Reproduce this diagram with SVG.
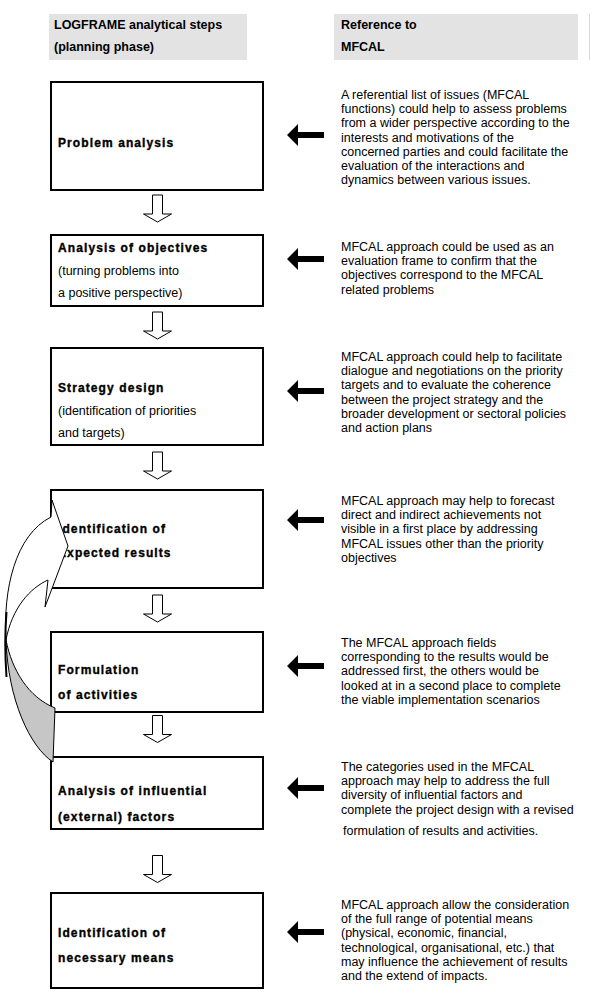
<svg xmlns="http://www.w3.org/2000/svg" width="603" height="1000" viewBox="0 0 603 1000">
<style>
text{font-family:"Liberation Sans",Arial,sans-serif;fill:#000}
.hd{font-size:12.5px;font-weight:bold}
.bt{font-size:12px;font-weight:bold;letter-spacing:1.1px;stroke:#000;stroke-width:0.35px}
.rt{font-size:12.5px}
.box{fill:#fff;stroke:#000;stroke-width:2}
.hol{fill:#fff;stroke:#000;stroke-width:1}
.blk{fill:#000}
.hbg{fill:#e3e3e3}
</style>
<defs>
<path id="hollow" d="M-5,0 L5,0 L5,19 L14,19 L0,27 L-14,19 L-5,19 Z"/>
<path id="black" d="M0,0 L11,-11 L11,-3 L37,-3 L37,3 L11,3 L11,11 Z"/>
</defs>
<rect width="603" height="1000" fill="#fff"/>

<g id="header-left">
<rect class="hbg" x="49" y="14" width="198" height="46"/>
<text class="hd" x="54" y="29">LOGFRAME analytical steps</text>
<text class="hd" x="54" y="51">(planning phase)</text>
</g>
<g id="header-right">
<rect class="hbg" x="334" y="14" width="244" height="46"/>
<line x1="589.5" y1="14" x2="589.5" y2="60" stroke="#d8d8d8" stroke-width="1"/>
<text class="hd" x="341" y="29">Reference to</text>
<text class="hd" x="341" y="51">MFCAL</text>
</g>

<g id="step1">
<rect class="box" x="51" y="82" width="212" height="108"/>
<text class="bt" x="58" y="147">Problem analysis</text>
</g>
<g id="step2">
<rect class="box" x="51" y="235" width="212" height="71"/>
<text class="bt" x="58" y="252">Analysis of objectives</text>
<text class="rt" x="58" y="275">(turning problems into</text>
<text class="rt" x="58" y="297">a positive perspective)</text>
</g>
<g id="step3">
<rect class="box" x="51" y="348" width="212" height="97"/>
<text class="bt" x="58" y="392">Strategy design</text>
<text class="rt" x="58" y="415">(identification of priorities</text>
<text class="rt" x="58" y="437">and targets)</text>
</g>
<g id="step4">
<rect class="box" x="51" y="490" width="212" height="98"/>
<text class="bt" x="58" y="533">Identification of</text>
<text class="bt" x="58" y="557">Expected results</text>
</g>
<g id="step5">
<rect class="box" x="51" y="632" width="212" height="80"/>
<text class="bt" x="58" y="674">Formulation</text>
<text class="bt" x="58" y="699">of activities</text>
</g>
<g id="step6">
<rect class="box" x="51" y="757" width="212" height="72"/>
<text class="bt" x="58" y="795">Analysis of influential</text>
<text class="bt" x="58" y="821">(external) factors</text>
</g>
<g id="step7">
<rect class="box" x="51" y="893" width="212" height="95"/>
<text class="bt" x="58" y="937">Identification of</text>
<text class="bt" x="58" y="962">necessary means</text>
</g>

<g id="ref1">
<text class="rt" x="341" y="99">A referential list of issues (MFCAL</text>
<text class="rt" x="341" y="113.2">functions) could help to assess problems</text>
<text class="rt" x="341" y="127.4">from a wider perspective according to the</text>
<text class="rt" x="341" y="141.6">interests and motivations of the</text>
<text class="rt" x="341" y="155.8">concerned parties and could facilitate the</text>
<text class="rt" x="341" y="170">evaluation of the interactions and</text>
<text class="rt" x="341" y="184.2">dynamics between various issues.</text>
</g>
<g id="ref2">
<text class="rt" x="341" y="251">MFCAL approach could be used as an</text>
<text class="rt" x="341" y="265.2">evaluation frame to confirm that the</text>
<text class="rt" x="341" y="279.4">objectives correspond to the MFCAL</text>
<text class="rt" x="341" y="293.6">related problems</text>
</g>
<g id="ref3">
<text class="rt" x="341" y="361">MFCAL approach could help to facilitate</text>
<text class="rt" x="341" y="375.2">dialogue and negotiations on the priority</text>
<text class="rt" x="341" y="389.4">targets and to evaluate the coherence</text>
<text class="rt" x="341" y="403.6">between the project strategy and the</text>
<text class="rt" x="341" y="417.8">broader development or sectoral policies</text>
<text class="rt" x="341" y="432">and action plans</text>
</g>
<g id="ref4">
<text class="rt" x="341" y="505">MFCAL approach may help to forecast</text>
<text class="rt" x="341" y="519.2">direct and indirect achievements not</text>
<text class="rt" x="341" y="533.4">visible in a first place by addressing</text>
<text class="rt" x="341" y="547.6">MFCAL issues other than the priority</text>
<text class="rt" x="341" y="561.8">objectives</text>
</g>
<g id="ref5">
<text class="rt" x="341" y="647">The MFCAL approach fields</text>
<text class="rt" x="341" y="661.2">corresponding to the results would be</text>
<text class="rt" x="341" y="675.4">addressed first, the others would be</text>
<text class="rt" x="341" y="689.6">looked at in a second place to complete</text>
<text class="rt" x="341" y="703.8">the viable implementation scenarios</text>
</g>
<g id="ref6">
<text class="rt" x="341" y="771">The categories used in the MFCAL</text>
<text class="rt" x="341" y="785.2">approach may help to address the full</text>
<text class="rt" x="341" y="799.4">diversity of influential factors and</text>
<text class="rt" x="341" y="813.6">complete the project design with a revised</text>
<text class="rt" x="343" y="834.5">formulation of results and activities.</text>
</g>
<g id="ref7">
<text class="rt" x="341" y="909">MFCAL approach allow the consideration</text>
<text class="rt" x="341" y="923.2">of the full range of potential means</text>
<text class="rt" x="341" y="937.4">(physical, economic, financial,</text>
<text class="rt" x="341" y="951.6">technological, organisational, etc.) that</text>
<text class="rt" x="341" y="965.8">may influence the achievement of results</text>
<text class="rt" x="341" y="980">and the extend of impacts.</text>
</g>

<g id="connectors">
<use href="#hollow" class="hol" x="157.5" y="195"/>
<use href="#hollow" class="hol" x="157.5" y="312"/>
<use href="#hollow" class="hol" x="157.5" y="452"/>
<use href="#hollow" class="hol" x="157.5" y="595"/>
<use href="#hollow" class="hol" x="157.5" y="715.5"/>
<use href="#hollow" class="hol" x="157.5" y="855.5"/>
<use href="#black" class="blk" x="287" y="135"/>
<use href="#black" class="blk" x="287" y="259"/>
<use href="#black" class="blk" x="287" y="391"/>
<use href="#black" class="blk" x="287" y="520"/>
<use href="#black" class="blk" x="287" y="666"/>
<use href="#black" class="blk" x="287" y="788"/>
<use href="#black" class="blk" x="287" y="932"/>
<g id="feedback-arrow">
<path d="M6,640 C12,670 28,697 55,708 L53,762 C30,747 8,700 6,640 Z" fill="#c6c6c6" stroke="#000" stroke-width="1"/>
<path d="M51,517 L52,500 L68,546 L45,607 L48,580 C30,588 12,608 6,640 C3,590 15,535 51,517 Z" fill="#fff" stroke="#000" stroke-width="1"/>
<path d="M6.5,612 C5,630 5,655 6.5,677" fill="none" stroke="#000" stroke-width="2"/>
</g>
</g>
</svg>
